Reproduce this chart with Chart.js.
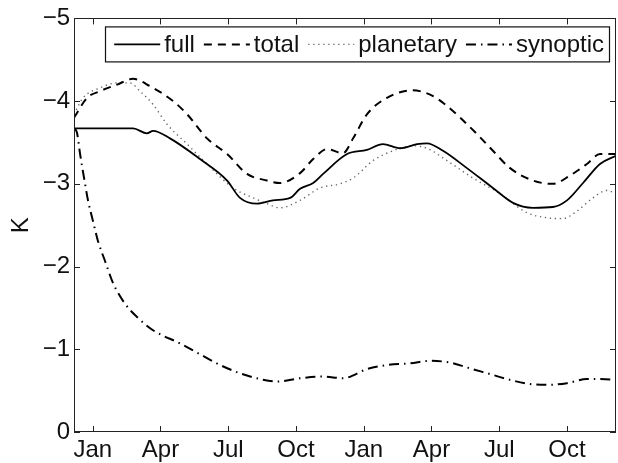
<!DOCTYPE html>
<html>
<head>
<meta charset="utf-8">
<script src="https://cdn.jsdelivr.net/npm/chart.js@4/dist/chart.umd.min.js"></script>
<style>
  html, body { margin: 0; padding: 0; background: #fff; }
  #chart { display: block; }
</style>
</head>
<body>
<canvas id="chart" width="618" height="463"></canvas>
<script>
// x is measured in months from the first January tick (0 = Jan of year 1)
const monthMin = -0.83;
const monthMax = 23.17;
const tickMonths = [0, 3, 6, 9, 12, 15, 18, 21];
const tickLabels = ['Jan', 'Apr', 'Jul', 'Oct', 'Jan', 'Apr', 'Jul', 'Oct'];

const fullMonths = [-0.83, -0.03, 0.77, 1.79, 2.40, 2.67, 3.42, 4.75, 5.95, 6.52, 7.28, 7.98, 8.74, 9.18, 9.76, 10.2, 11.26, 12.14, 12.85, 13.61, 14.36, 14.80, 15.51, 16.57, 17.72, 18.61, 19.49, 20.38, 21.0, 21.71, 22.46, 23.17];
const fullK = [-3.67, -3.67, -3.67, -3.67, -3.61, -3.64, -3.55, -3.30, -3.04, -2.83, -2.76, -2.80, -2.83, -2.94, -3.01, -3.12, -3.36, -3.41, -3.48, -3.43, -3.48, -3.49, -3.40, -3.19, -2.95, -2.77, -2.71, -2.72, -2.80, -3.01, -3.24, -3.34];

const totalMonths = [-0.83, -0.25, 0.32, 1.08, 1.78, 2.54, 3.56, 4.18, 5.06, 5.95, 6.83, 7.72, 8.29, 9.18, 9.76, 10.37, 11.08, 11.53, 12.14, 13.03, 14.18, 15.07, 15.69, 16.27, 17.02, 17.72, 18.48, 19.49, 20.38, 21.13, 21.88, 22.46, 23.17];
const totalK = [-3.80, -4.04, -4.12, -4.20, -4.27, -4.18, -4.00, -3.84, -3.55, -3.36, -3.12, -3.04, -3.01, -3.13, -3.30, -3.42, -3.37, -3.55, -3.84, -4.04, -4.13, -4.06, -3.94, -3.80, -3.60, -3.40, -3.19, -3.04, -3.00, -3.10, -3.24, -3.36, -3.36];

const planetaryMonths = [-0.83, -0.43, 0.32, 1.08, 1.65, 2.09, 2.67, 3.29, 4.18, 5.06, 6.21, 7.10, 7.72, 8.29, 9.18, 10.06, 10.95, 11.53, 12.41, 13.30, 14.18, 14.80, 15.69, 16.84, 18.04, 19.23, 20.11, 20.82, 21.44, 22.15, 22.77, 23.17];
const planetaryK = [-3.84, -4.04, -4.16, -4.22, -4.22, -4.12, -3.96, -3.72, -3.48, -3.24, -2.95, -2.83, -2.76, -2.71, -2.80, -2.95, -3.00, -3.07, -3.28, -3.40, -3.46, -3.43, -3.28, -3.07, -2.88, -2.65, -2.59, -2.58, -2.67, -2.83, -2.92, -2.88];

const synopticMonths = [-0.83, -0.70, -0.56, -0.34, -0.21, 0.01, 0.23, 0.54, 0.90, 1.43, 1.96, 2.67, 3.87, 4.88, 5.64, 6.52, 7.41, 8.16, 9.18, 10.20, 11.08, 12.14, 13.03, 14.05, 14.94, 15.82, 16.57, 17.59, 18.48, 19.36, 20.11, 21.00, 21.88, 22.46, 23.17];
const synopticK = [-3.67, -3.62, -3.36, -3.00, -2.80, -2.55, -2.31, -2.07, -1.80, -1.55, -1.39, -1.23, -1.07, -0.92, -0.81, -0.71, -0.64, -0.61, -0.65, -0.67, -0.65, -0.76, -0.81, -0.83, -0.86, -0.84, -0.78, -0.70, -0.63, -0.58, -0.57, -0.59, -0.64, -0.64, -0.63];

const seriesNames = ['full', 'total', 'planetary', 'synoptic'];

function pairs(xs, ys){
  return xs.map((x, i) => ({x: x, y: ys[i]}));
}

const FONT = '"Liberation Sans", Arial, Helvetica, sans-serif';

// frame + inward ticks on all four sides, then a boxed legend in the top right
const matlabAxes = {
  id: 'matlabAxes',
  afterDatasetsDraw(chart){
    const ctx = chart.ctx;
    const a = chart.chartArea;
    const xs = chart.scales.x, ys = chart.scales.y;
    ctx.save();
    ctx.strokeStyle = '#222';
    ctx.lineWidth = 1;
    ctx.setLineDash([]);
    ctx.strokeRect(Math.round(a.left) + 0.5, Math.round(a.top) + 0.5, Math.round(a.right - a.left) - 1, Math.round(a.bottom - a.top) - 1);
    const tl = 6;
    ctx.beginPath();
    for(const m of tickMonths){
      const px = Math.round(xs.getPixelForValue(m)) + 0.5;
      ctx.moveTo(px, a.bottom); ctx.lineTo(px, a.bottom - tl);
      ctx.moveTo(px, a.top); ctx.lineTo(px, a.top + tl);
    }
    for(let v = -5; v <= 0; v++){
      const py = Math.round(ys.getPixelForValue(v)) + 0.5;
      ctx.moveTo(a.left, py); ctx.lineTo(a.left + tl, py);
      ctx.moveTo(a.right, py); ctx.lineTo(a.right - tl, py);
    }
    ctx.stroke();

    // legend
    ctx.font = '24px ' + FONT;
    const sample = 46, gapText = 4, gapItem = 9, padL = 9, padR = 5;
    const items = chart.data.datasets;
    let w = padL;
    items.forEach((d, i) => {
      w += sample + gapText + ctx.measureText(d.label).width;
      if(i < items.length - 1) w += gapItem;
    });
    w += padR;
    const boxRight = a.right - 7;
    const boxLeft = boxRight - w;
    const boxTop = a.top + 8, boxH = 35;
    ctx.fillStyle = '#fff';
    ctx.fillRect(boxLeft, boxTop, w, boxH);
    ctx.strokeStyle = '#111';
    ctx.lineWidth = 1.2;
    ctx.strokeRect(Math.round(boxLeft) + 0.5, boxTop + 0.5, Math.round(w), boxH);
    const cy = boxTop + boxH / 2 + 0.5;
    let x = boxLeft + padL;
    ctx.textBaseline = 'middle';
    items.forEach(d => {
      ctx.beginPath();
      ctx.strokeStyle = d.borderColor;
      ctx.lineWidth = d.borderWidth;
      ctx.setLineDash(d.borderDash || []);
      ctx.moveTo(x, cy); ctx.lineTo(x + sample, cy);
      ctx.stroke();
      ctx.setLineDash([]);
      x += sample + gapText;
      ctx.fillStyle = '#111';
      ctx.fillText(d.label, x, cy + 1);
      x += ctx.measureText(d.label).width + gapItem;
    });
    ctx.restore();
  }
};

const ctx = document.getElementById('chart').getContext('2d');
new Chart(ctx, {
  type: 'line',
  data: {
    datasets: [
      { label: seriesNames[0], data: pairs(fullMonths, fullK), borderColor: '#000', borderWidth: 1.8 },
      { label: seriesNames[1], data: pairs(totalMonths, totalK), borderColor: '#000', borderWidth: 2, borderDash: [8, 6] },
      { label: seriesNames[2], data: pairs(planetaryMonths, planetaryK), borderColor: '#666', borderWidth: 1.4, borderDash: [1.3, 3.7] },
      { label: seriesNames[3], data: pairs(synopticMonths, synopticK), borderColor: '#000', borderWidth: 2, borderDash: [10, 5, 1.5, 5] }
    ]
  },
  options: {
    responsive: false,
    animation: false,
    elements: {
      point: { radius: 0 },
      line: { cubicInterpolationMode: 'monotone', fill: false, borderCapStyle: 'butt' }
    },
    layout: { padding: { top: 17, right: 2, left: 0, bottom: 0 } },
    plugins: {
      legend: { display: false },
      tooltip: { enabled: false }
    },
    scales: {
      x: {
        type: 'linear',
        min: monthMin,
        max: monthMax,
        afterBuildTicks: s => { s.ticks = tickMonths.map(v => ({value: v})); },
        afterFit: s => { s.height = 31; },
        grid: { display: false, drawTicks: false },
        border: { display: false },
        ticks: {
          color: '#111',
          font: { family: FONT, size: 24 },
          padding: 4,
          maxRotation: 0,
          autoSkip: false,
          callback: v => tickLabels[tickMonths.indexOf(v)]
        }
      },
      y: {
        type: 'linear',
        min: -5,
        max: 0,
        reverse: true,
        afterFit: s => { s.width = 74; },
        grid: { display: false, drawTicks: false },
        border: { display: false },
        ticks: {
          stepSize: 1,
          color: '#111',
          font: { family: FONT, size: 24 },
          padding: 4,
          callback: v => v === 0 ? '0' : '\u2212' + Math.abs(v)
        },
        title: {
          display: true,
          text: 'K',
          color: '#111',
          font: { family: FONT, size: 24 },
          padding: { top: 7, bottom: 0 }
        }
      }
    }
  },
  plugins: [matlabAxes]
});
</script>
</body>
</html>
